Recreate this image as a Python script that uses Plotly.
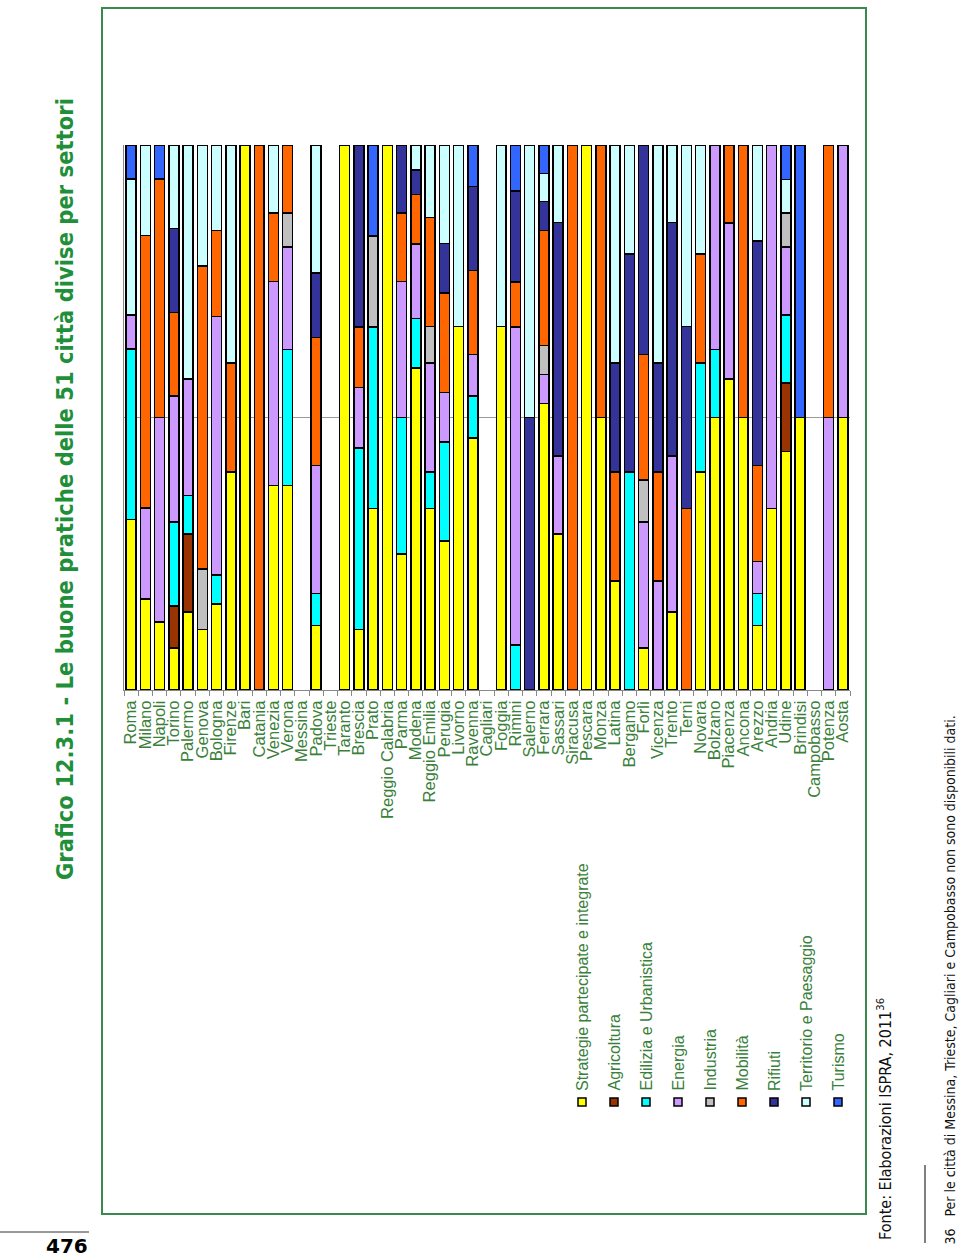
import plotly.graph_objects as go

cities = ["Roma", "Milano", "Napoli", "Torino", "Palermo", "Genova", "Bologna", "Firenze", "Bari",
          "Catania", "Venezia", "Verona", "Messina", "Padova", "Trieste", "Taranto", "Brescia", "Prato",
          "Reggio Calabria", "Parma", "Modena", "Reggio Emilia", "Perugia", "Livorno", "Ravenna",
          "Cagliari", "Foggia", "Rimini", "Salerno", "Ferrara", "Sassari", "Siracusa", "Pescara",
          "Monza", "Latina", "Bergamo", "Forlì", "Vicenza", "Trento", "Terni", "Novara", "Bolzano",
          "Piacenza", "Ancona", "Arezzo", "Andria", "Udine", "Brindisi", "Campobasso", "Potenza", "Aosta"]

sectors = ["Strategie partecipate e integrate", "Agricoltura", "Edilizia e Urbanistica", "Energia",
           "Industria", "Mobilità", "Rifiuti", "Territorio e Paesaggio", "Turismo"]

colors = ["#FFFF00", "#993300", "#00FFFF", "#CC99FF", "#C0C0C0", "#FF6600", "#333399", "#CCFFFF", "#3366FF"]

# percentage of practices per sector, one value per city (same order as cities)
strategie = [31.3, 16.7, 12.5, 7.7, 14.3, 11.1, 15.8, 40, 100, 0, 37.5, 37.5, 0, 11.8, 0, 100, 11.1, 33.3,
             100, 25, 59.1, 33.3, 27.3, 66.7, 46.2, 0, 66.7, 0, 0, 52.6, 28.6, 0, 100, 50, 20, 0, 7.7, 0,
             14.3, 0, 40, 50, 57.1, 50, 11.8, 33.3, 43.8, 50, 0, 0, 50]
agricoltura = [0, 0, 0, 7.7, 14.3, 0, 0, 0, 0, 0, 0, 0, 0, 0, 0, 0, 0, 0,
               0, 0, 0, 0, 0, 0, 0, 0, 0, 0, 0, 0, 0, 0, 0, 0, 0, 0, 0, 0,
               0, 0, 0, 0, 0, 0, 0, 0, 12.5, 0, 0, 0, 0]
edilizia = [31.3, 0, 0, 15.4, 7.1, 0, 5.3, 0, 0, 0, 0, 25.0, 0, 5.9, 0, 0, 33.3, 33.3,
            0, 25, 9.1, 6.7, 18.2, 0, 7.7, 0, 0, 8.3, 0, 0, 0, 0, 0, 0, 0, 40, 0, 0,
            0, 0, 20, 12.5, 0, 0, 5.9, 0, 12.5, 0, 0, 0, 0]
energia = [6.2, 16.7, 37.5, 23.1, 21.4, 0, 47.4, 0, 0, 0, 37.5, 18.8, 0, 23.5, 0, 0, 11.1, 0,
           0, 25, 13.6, 20.0, 9.1, 0, 7.7, 0, 0, 58.3, 0, 5.3, 14.3, 0, 0, 0, 0, 0, 23.1, 20,
           28.6, 0, 0, 37.5, 28.6, 0, 5.9, 66.7, 12.5, 0, 0, 50, 50]
industria = [0, 0, 0, 0, 0, 11.1, 0, 0, 0, 0, 0, 6.2, 0, 0, 0, 0, 0, 16.7,
             0, 0, 0, 6.7, 0, 0, 0, 0, 0, 0, 0, 5.3, 0, 0, 0, 0, 0, 0, 7.7, 0,
             0, 0, 0, 0, 0, 0, 0, 0, 6.2, 0, 0, 0, 0]
mobilita = [0, 50.0, 43.8, 15.4, 0, 55.6, 15.8, 20, 0, 100, 12.5, 12.5, 0, 23.5, 0, 0, 11.1, 0,
            0, 12.5, 9.1, 20.0, 18.2, 0, 15.4, 0, 0, 8.3, 0, 21.1, 0, 100, 0, 50, 20, 0, 23.1, 20,
            0, 33.3, 20, 0, 14.3, 50, 17.6, 0, 0, 0, 0, 50, 0]
rifiuti = [0, 0, 0, 15.4, 0, 0, 0, 0, 0, 0, 0, 0, 0, 11.8, 0, 0, 33.4, 0,
           0, 12.5, 4.5, 0, 9.1, 0, 15.4, 0, 0, 16.7, 50, 5.3, 42.9, 0, 0, 0, 20, 40, 38.4, 20,
           42.9, 33.4, 0, 0, 0, 0, 41.2, 0, 0, 0, 0, 0, 0]
territorio = [25.0, 16.6, 0, 15.3, 42.9, 22.2, 15.7, 40, 0, 0, 12.5, 0, 0, 23.5, 0, 0, 0, 0,
              0, 0, 4.6, 13.3, 18.1, 33.3, 0, 0, 33.3, 0, 50, 5.2, 14.2, 0, 0, 0, 40, 20, 0, 40,
              14.2, 33.3, 20, 0, 0, 0, 17.6, 0, 6.2, 0, 0, 0, 0]
turismo = [6.2, 0, 6.2, 0, 0, 0, 0, 0, 0, 0, 0, 0, 0, 0, 0, 0, 0, 16.7,
           0, 0, 0, 0, 0, 0, 7.6, 0, 0, 8.4, 0, 5.2, 0, 0, 0, 0, 0, 0, 0, 0,
           0, 0, 0, 0, 0, 0, 0, 0, 6.3, 50, 0, 0, 0]

series = [strategie, agricoltura, edilizia, energia, industria, mobilita, rifiuti, territorio, turismo]

GREEN = "#3a7f3a"
TITLE_GREEN = "#1f8f3a"
NARROW = "Liberation Sans Narrow, DejaVu Sans Condensed, Arial Narrow, sans-serif"
SANS = "Liberation Sans, Arial, sans-serif"

# plot area in pixels
L, R, T, B = 124, 850, 145, 690
W, H = R - L, B - T


def px(x):
    return (x - L) / W


def py(y):
    return (B - y) / H


fig = go.Figure()
for name, vals, col in zip(sectors, series, colors):
    fig.add_trace(go.Bar(
        x=cities, y=[v if v > 0 else None for v in vals], name=name,
        marker=dict(color=col, line=dict(color="#000000", width=1.5)),
        showlegend=False,
    ))

shapes = []
annotations = []

# green frame
shapes.append(dict(type="rect", xref="paper", yref="paper", x0=px(102), x1=px(866), y0=py(1214), y1=py(8),
                   line=dict(color="#3a8a50", width=2), fillcolor="rgba(0,0,0,0)", layer="below"))

# legend (rotated)
for i, (name, col) in enumerate(zip(sectors, colors)):
    cx = 582 + i * 32.0
    shapes.append(dict(type="rect", xref="paper", yref="paper",
                       x0=px(cx - 4), x1=px(cx + 4), y0=py(1106), y1=py(1098),
                       fillcolor=col, line=dict(color="#000000", width=1.5)))
    annotations.append(dict(text=name, textangle=-90, xref="paper", yref="paper",
                            x=px(cx), y=py(1093), xanchor="center", yanchor="bottom",
                            showarrow=False, font=dict(family=SANS, size=16, color=GREEN)))

# title
annotations.append(dict(text="<b>Grafico 12.3.1 - Le buone pratiche delle 51 città divise per settori</b>",
                        textangle=-90, xref="paper", yref="paper", x=px(65), y=py(882),
                        xanchor="center", yanchor="bottom", showarrow=False,
                        font=dict(family=NARROW, size=23.5, color=TITLE_GREEN)))

# source
annotations.append(dict(text="Fonte: Elaborazioni ISPRA, 2011<sup>36</sup>",
                        textangle=-90, xref="paper", yref="paper", x=px(884), y=py(1242),
                        xanchor="center", yanchor="bottom", showarrow=False,
                        font=dict(family=NARROW, size=16, color="#111111")))

# footnote rule and footnote
shapes.append(dict(type="line", xref="paper", yref="paper", x0=px(925), x1=px(925), y0=py(1165), y1=py(1243),
                   line=dict(color="#000000", width=1)))
annotations.append(dict(text="36&nbsp;&nbsp;&nbsp;Per le città di Messina, Trieste, Cagliari e Campobasso non sono disponibili dati.",
                        textangle=-90, xref="paper", yref="paper", x=px(949), y=py(1246),
                        xanchor="center", yanchor="bottom", showarrow=False, borderpad=0,
                        font=dict(family=NARROW, size=14, color="#111111")))

# page number
shapes.append(dict(type="line", xref="paper", yref="paper", x0=px(0), x1=px(89), y0=py(1232), y1=py(1232),
                   line=dict(color="#333333", width=1)))
annotations.append(dict(text="<b>476</b>", xref="paper", yref="paper", x=px(89), y=py(1246),
                        xanchor="right", yanchor="middle", showarrow=False, borderpad=0,
                        font=dict(family="DejaVu Sans, sans-serif", size=20, color="#000000")))

fig.update_layout(
    width=960, height=1260,
    margin=dict(l=L, r=960 - R, t=T, b=1260 - B, pad=0),
    paper_bgcolor="white", plot_bgcolor="white",
    barmode="stack", bargap=0.3,
    shapes=shapes, annotations=annotations,
    font=dict(family=SANS),
)
fig.update_xaxes(
    type="category", tickmode="array", tickvals=cities, ticktext=cities,
    tickangle=-90, tickfont=dict(family=SANS, size=16.5, color=GREEN),
    ticks="outside", tickson="boundaries", ticklen=5, tickcolor="#888888",
    ticklabelstandoff=3,
    showline=True, linecolor="#888888", linewidth=1, showgrid=False,
)
fig.update_yaxes(
    range=[0, 100], dtick=50, showgrid=True, gridcolor="#999999", gridwidth=1,
    showticklabels=False, zeroline=False, showline=True, linecolor="#888888", ticks="",
)

fig.write_html("out.html", config={"displayModeBar": False},
               post_script="document.body.style.margin='0px';document.body.style.overflow='hidden';")
